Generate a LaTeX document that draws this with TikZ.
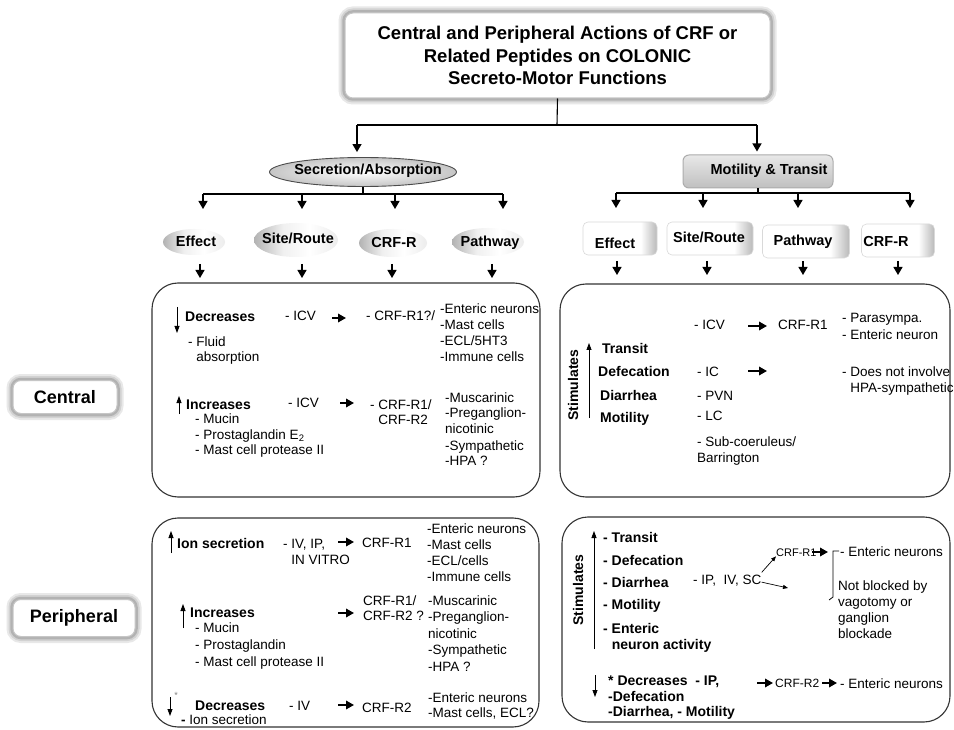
\documentclass[tikz,border=0pt]{standalone}
\usepackage{fontspec}
\setmainfont{Liberation Sans}
\usetikzlibrary{arrows.meta,shapes.geometric}
\newcommand\lns[1]{\begin{tabular}[t]{@{}l@{}}#1\end{tabular}}
\pgfdeclarehorizontalshading{ellsh}{100bp}{color(0bp)=(gray!60); color(25bp)=(gray!60); color(42bp)=(gray!12); color(58bp)=(white); color(75bp)=(gray!15); color(100bp)=(gray!15)}
\pgfdeclarehorizontalshading{boxsh}{100bp}{color(0bp)=(white); color(25bp)=(white); color(64bp)=(white); color(75bp)=(gray!55); color(100bp)=(gray!55)}
\tikzset{
 tx/.style={anchor=base west, inner sep=0pt, font=\fontsize{13.5}{16}\selectfont},
 bx/.style={anchor=base west, inner sep=0pt, font=\bfseries\fontsize{14}{16}\selectfont},
 hd/.style={inner sep=0pt, font=\bfseries\fontsize{14.5}{17}\selectfont},
 bigbox/.style={rectangle, draw=black!80, line width=1.1pt, rounded corners=26pt},
 glow/.style={rectangle, rounded corners=8pt, fill=white, draw=gray!45, line width=1pt,
   preaction={draw=gray!18, line width=13pt},
   preaction={draw=gray!35, line width=9pt},
   preaction={draw=gray!60, line width=5.5pt}},
 ellhd/.style={ellipse, shade, shading=ellsh, draw=none, inner sep=0pt},
 boxhd/.style={rectangle, rounded corners=5pt, shade, shading=boxsh, draw=gray!30, line width=0.6pt, inner sep=0pt},
 treearrow/.style={-{Triangle[width=9pt,length=8pt]}, line width=1.2pt},
 ia/.style={-{Triangle[width=8.5pt,length=8pt]}, line width=1.8pt},
 va/.style={-{Triangle[width=5pt,length=7pt]}, line width=0.8pt},
 sa/.style={-{Triangle[width=4pt,length=5pt]}, line width=0.7pt},
}
\begin{document}
\begin{tikzpicture}[x=1pt,y=-1pt]
\path[use as bounding box, fill=white] (0,0) rectangle (954,730);

% ---------- title and tree ----------
\node[glow, minimum width=425pt, minimum height=85pt, align=center,
      font=\bfseries\fontsize{18.5}{22.5}\selectfont] (title) at (557.5,55.5)
  {Central and Peripheral Actions of CRF or\\Related Peptides on COLONIC\\Secreto-Motor Functions};
\coordinate (j0) at (557,125);
\coordinate (jl) at (357,125);
\coordinate (jr) at (757,125);
\draw[line width=1.1pt] (title.south) -- (j0);
\draw[line width=1.1pt] (jl) -- (jr);

\node[ellipse, draw=black!70, line width=0.9pt, inner color=white, outer color=gray!45,
      minimum width=187pt, minimum height=29pt, inner sep=0pt] (secab) at (363,172) {};
\node[hd] (secabT) at (368,171) {Secretion/Absorption};
\node[rectangle, rounded corners=6pt, draw=gray!65, line width=1pt, top color=gray!18, bottom color=gray!50,
      minimum width=150pt, minimum height=33pt, inner sep=0pt] (mot) at (758,171.5) {};
\node[hd] (motT) at (769,171) {Motility \& Transit};

\draw[treearrow] (jl) -- ([yshift=5pt]secab.north -| jl);
\draw[treearrow] (jr) -- ([yshift=3pt]mot.north -| jr);

% left branches
\coordinate (l1) at (203,194);
\coordinate (l2) at (302,194);
\coordinate (l3) at (395,194);
\coordinate (l4) at (503,194);
\draw[line width=1.1pt] (secab.south) -- (secab.south |- l1);
\draw[line width=1.1pt] (l1) -- (l4);
\foreach \c in {l1,l2,l3,l4} \draw[treearrow] (\c) -- ++(0,15);

% right branches
\coordinate (r1) at (616,193);
\coordinate (r2) at (703,193);
\coordinate (r3) at (798,193);
\coordinate (r4) at (910,193);
\draw[line width=1.1pt] (mot.south) -- (mot.south |- r1);
\draw[line width=1.1pt] (r1) -- (r4);
\foreach \c in {r1,r2,r3,r4} \draw[treearrow] (\c) -- ++(0,15);

% left headers
\node[ellhd, minimum width=62pt, minimum height=26pt] (effE) at (194,242) {};
\node[hd] (effT) at (196,241) {Effect};
\node[ellhd, minimum width=84pt, minimum height=34pt] (siteE) at (296,240) {};
\node[hd] (siteT) at (298,238) {Site/Route};
\node[ellhd, minimum width=68pt, minimum height=28pt] (crfE) at (393,243) {};
\node[hd] (crfT) at (394,243) {CRF-R};
\node[ellhd, minimum width=72pt, minimum height=28pt] (pathE) at (488,242) {};
\node[hd] (pathT) at (490,243) {Pathway};

% right headers
\node[boxhd, minimum width=74pt, minimum height=33pt] (effB) at (620,238.5) {};
\node[hd] (effBT) at (615,243) {Effect};
\node[boxhd, minimum width=86pt, minimum height=33pt] (siteB) at (710,238.5) {};
\node[hd] (siteBT) at (709,237) {Site/Route};
\node[boxhd, minimum width=87pt, minimum height=33pt] (pathB) at (806,241.5) {};
\node[hd] (pathBT) at (803,242) {Pathway};
\node[boxhd, minimum width=73pt, minimum height=33pt] (crfB) at (898,240.5) {};
\node[hd] (crfBT) at (886,242) {CRF-R};

% arrows from headers to boxes
\coordinate (la1) at (200,264);
\coordinate (la2) at (302,264);
\coordinate (la3) at (392,264);
\coordinate (la4) at (492,264);
\coordinate (ra1) at (617,261);
\coordinate (ra2) at (707,261);
\coordinate (ra3) at (803,261);
\coordinate (ra4) at (898,261);
\foreach \c in {la1,la2,la3,la4,ra1,ra2,ra3,ra4} \draw[treearrow] (\c) -- ++(0,14);

% ---------- big boxes ----------
\node[bigbox, minimum width=388pt, minimum height=214pt] (lcbox) at (346,390) {};
\node[bigbox, minimum width=390pt, minimum height=213pt] (rcbox) at (755,390.5) {};
\node[bigbox, minimum width=387pt, minimum height=209pt] (lpbox) at (345.5,622.5) {};
\node[bigbox, minimum width=388pt, minimum height=205pt] (rpbox) at (756,619.5) {};

% side labels
\node[glow, minimum width=104pt, minimum height=33pt, font=\bfseries\fontsize{18}{20}\selectfont] (central) at (65,397) {Central};
\node[glow, minimum width=122pt, minimum height=37pt, font=\bfseries\fontsize{18}{20}\selectfont] (periph) at (74,618) {Peripheral};

% ---------- left central ----------
\coordinate (lcd1) at (177,307); \coordinate (lcd2) at (177,333);
\draw[va] (lcd1) -- (lcd2);
\node[bx] (lcDec) at (185,322) {Decreases};
\node[tx] (lcFluid) at (188,346) {\lns{- Fluid\\\hphantom{- }absorption}};
\node[tx] (lcIcv1) at (285,320) {- ICV};
\coordinate (lca1) at (332,318); \coordinate (lca2) at (346,318);
\draw[ia] (lca1) -- (lca2);
\node[tx] (lcR1) at (366,320) {- CRF-R1?/};
\node[tx] (lcP1) at (440,314) {\lns{-Enteric neurons\\-Mast cells\\-ECL/5HT3\\-Immune cells}};
\coordinate (lcu1) at (179,414); \coordinate (lcu2) at (179,396);
\draw[va] (lcu1) -- (lcu2);
\node[bx] (lcInc) at (186,409) {Increases};
\node[tx] (lcIncL) at (195,423) {\lns{- Mucin\\- Prostaglandin E\textsubscript{2}\\- Mast cell protease II}};
\node[tx] (lcIcv2) at (288,407) {- ICV};
\coordinate (lcb1) at (340,403); \coordinate (lcb2) at (354,403);
\draw[ia] (lcb1) -- (lcb2);
\node[tx] (lcR2) at (370,409) {\lns{- CRF-R1/\\\hphantom{- }CRF-R2}};
\node[tx] (lcP2) at (445,402) {\lns{-Muscarinic\\-Preganglion-\\nicotinic\\-Sympathetic\\-HPA ?}};

% ---------- right central ----------
\node[inner sep=0pt, rotate=90, font=\bfseries\fontsize{14}{16}\selectfont] (rcStim) at (573,385) {Stimulates};
\coordinate (rcu1) at (589,418); \coordinate (rcu2) at (589,343);
\draw[va] (rcu1) -- (rcu2);
\node[bx] (rcTr) at (602,353) {Transit};
\node[bx] (rcDef) at (598,377) {Defecation};
\node[bx] (rcDia) at (600,400) {Diarrhea};
\node[bx] (rcMot) at (600,422) {Motility};
\node[tx] (rcIcv) at (694,330) {- ICV};
\coordinate (rca1) at (748,326); \coordinate (rca2) at (767,326);
\draw[ia] (rca1) -- (rca2);
\node[tx] (rcR1) at (778,330) {CRF-R1};
\node[tx, font=\fontsize{13.5}{17}\selectfont] (rcPara) at (842,323) {\lns{- Parasympa.\\- Enteric neuron}};
\node[tx] (rcIc) at (697,377) {- IC};
\coordinate (rcb1) at (748,371); \coordinate (rcb2) at (767,371);
\draw[ia] (rcb1) -- (rcb2);
\node[tx, font=\fontsize{13.5}{15.5}\selectfont] (rcHpa) at (842,377) {\lns{- Does not involve\\\hphantom{- }HPA-sympathetic}};
\node[tx] (rcPvn) at (697,400) {- PVN};
\node[tx] (rcLc) at (697,420) {- LC};
\node[tx] (rcSub) at (697,446) {\lns{- Sub-coeruleus/\\Barrington}};

% ---------- left peripheral ----------
\coordinate (lpu1) at (171,553); \coordinate (lpu2) at (171,531);
\draw[va] (lpu1) -- (lpu2);
\node[bx] (lpIon) at (177,548) {Ion secretion};
\node[tx] (lpIv) at (283,548) {\lns{- IV, IP,\\\hphantom{- }IN VITRO}};
\coordinate (lpa1) at (338,542); \coordinate (lpa2) at (354,542);
\draw[ia] (lpa1) -- (lpa2);
\node[tx] (lpR1) at (362,547) {CRF-R1};
\node[tx] (lpP1) at (427,533) {\lns{-Enteric neurons\\-Mast cells\\-ECL/cells\\-Immune cells}};
\coordinate (lpu3) at (183,628); \coordinate (lpu4) at (183,604);
\draw[va] (lpu3) -- (lpu4);
\node[bx] (lpInc) at (190,617) {Increases};
\node[tx, font=\fontsize{13.5}{17.3}\selectfont] (lpIncL) at (195,632) {\lns{- Mucin\\- Prostaglandin\\- Mast cell protease II}};
\coordinate (lpb1) at (338,613); \coordinate (lpb2) at (354,613);
\draw[ia] (lpb1) -- (lpb2);
\node[tx, font=\fontsize{13.5}{15.5}\selectfont] (lpR2) at (363,605) {\lns{CRF-R1/\\CRF-R2 ?}};
\node[tx, font=\fontsize{13.5}{16.5}\selectfont] (lpP2) at (428,605) {\lns{-Muscarinic\\-Preganglion-\\nicotinic\\-Sympathetic\\-HPA ?}};
\coordinate (lpd1) at (170,697); \coordinate (lpd2) at (170,716);
\draw[va] (lpd1) -- (lpd2);
\node[inner sep=0pt, text=gray, font=\fontsize{9}{10}\selectfont] (lpStar) at (176,695) {*};
\node[bx] (lpDec) at (195,710) {Decreases};
\node[tx] (lpIonS) at (181,724) {\textbf{-} Ion secretion};
\node[tx] (lpIv2) at (289,710) {- IV};
\coordinate (lpc1) at (338,705); \coordinate (lpc2) at (354,705);
\draw[ia] (lpc1) -- (lpc2);
\node[tx] (lpR3) at (362,712) {CRF-R2};
\node[tx, font=\fontsize{13.5}{15}\selectfont] (lpP3) at (428,702) {\lns{-Enteric neurons\\-Mast cells, ECL?}};

% ---------- right peripheral ----------
\node[inner sep=0pt, rotate=90, font=\bfseries\fontsize{14}{16}\selectfont] (rpStim) at (578,590) {Stimulates};
\coordinate (rpu1) at (594,649); \coordinate (rpu2) at (594,531);
\draw[va] (rpu1) -- (rpu2);
\node[bx] (rpTr) at (603,542) {- Transit};
\node[bx] (rpDef) at (603,565) {- Defecation};
\node[bx] (rpDia) at (603,587) {- Diarrhea};
\node[bx] (rpMot) at (603,609) {- Motility};
\node[bx] (rpEnt) at (603,633) {\lns{- Enteric\\\hphantom{- }neuron activity}};
\node[tx] (rpIp) at (693,584) {- IP,\ \ IV, SC};
\node[tx, font=\fontsize{11}{14}\selectfont] (rpR1) at (776,556) {CRF-R1};
\draw[sa] ([yshift=2pt]rpIp.north east) -- (rpR1.south west);
\coordinate (rpfree) at (788,588);
\draw[sa] ([yshift=-2pt]rpIp.east) -- (rpfree);
\coordinate (rpa1) at (812,552); \coordinate (rpa2) at (828,552);
\draw[ia] (rpa1) -- (rpa2);
\coordinate (brt) at (839,551); \coordinate (brb) at (829,600);
\draw[line width=0.8pt] (brt) -- (833,551) -- (833,597) -- (brb);
\node[tx] (rpEn1) at (840,556) {- Enteric neurons};
\node[tx] (rpNot) at (838,590) {\lns{Not blocked by\\vagotomy or\\ganglion\\blockade}};
\coordinate (rpd1) at (595,675); \coordinate (rpd2) at (595,697);
\draw[va] (rpd1) -- (rpd2);
\node[bx] (rpDec) at (608,685) {* Decreases\ \ - IP,};
\node[bx, font=\bfseries\fontsize{14}{15}\selectfont] (rpDecL) at (608,701) {\lns{-Defecation\\-Diarrhea, - Motility}};
\coordinate (rpb1) at (757,683); \coordinate (rpb2) at (773,683);
\draw[ia] (rpb1) -- (rpb2);
\node[tx, font=\fontsize{12}{14}\selectfont] (rpR2) at (775,687.5) {CRF-R2};
\coordinate (rpc1) at (822,683); \coordinate (rpc2) at (837,683);
\draw[ia] (rpc1) -- (rpc2);
\node[tx] (rpEn2) at (840,688) {- Enteric neurons};
\end{tikzpicture}
\end{document}
